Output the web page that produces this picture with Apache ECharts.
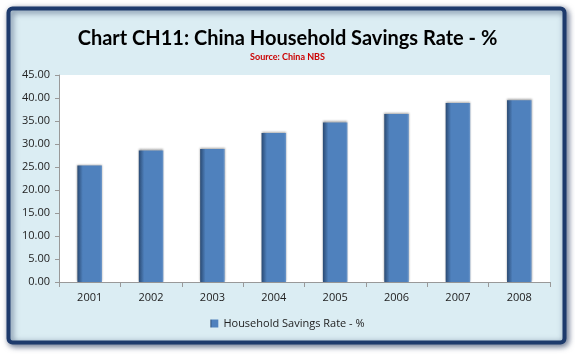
<!DOCTYPE html>
<html><head><meta charset="utf-8">
<script src="https://cdn.jsdelivr.net/npm/echarts@6/dist/echarts.min.js"></script>
<style>html,body{margin:0;padding:0;background:#fff;}#c{width:575px;height:354px;}</style>
</head><body><div id="c"></div>
<script>
const categories = ['2001','2002','2003','2004','2005','2006','2007','2008'];
const savingsRate = [25.3, 28.6, 28.9, 32.4, 34.7, 36.5, 38.9, 39.5];
const seriesName = 'Household Savings Rate - %';
const titleText = 'Chart CH11: China Household Savings Rate - %';
const subtitleText = 'Source: China NBS';

const chart = echarts.init(document.getElementById('c'), null, {renderer:'canvas'});
const barColor = new echarts.graphic.LinearGradient(0,0,1,0,[
  {offset:0, color:'#2a4a73'},
  {offset:0.22, color:'#4f81bd'},
  {offset:0.92, color:'#4f81bd'},
  {offset:1, color:'#6d97c9'}
]);
chart.setOption({
  animation:false,
  backgroundColor:'transparent',
  graphic:[{
    type:'rect', z:-10, silent:true,
    shape:{x:8.5,y:8.5,width:556,height:334,r:4},
    style:{fill:'#dbedf3', stroke:'#1d3a6c', lineWidth:4,
      shadowBlur:6, shadowColor:'rgba(20,40,80,0.6)', shadowOffsetX:2, shadowOffsetY:2}
  }],
  title:{
    text:titleText, subtext:subtitleText, left:'center', top:24, itemGap:4,
    textStyle:{fontFamily:'Lato', fontWeight:'bold', fontSize:20, color:'#000'},
    subtextStyle:{fontFamily:'Lato', fontWeight:'bold', fontSize:9, color:'#cc0000'}
  },
  legend:{
    data:[seriesName], bottom:20, left:'center', itemWidth:8, itemHeight:8,
    icon:'rect', textStyle:{fontFamily:'Open Sans', fontSize:11, color:'#222'}
  },
  grid:{left:59, right:25, top:75, bottom:72, backgroundColor:'#fff', show:true, borderWidth:0},
  xAxis:{
    type:'category', data:categories,
    axisLine:{lineStyle:{color:'#999'}},
    axisTick:{show:true, length:5, lineStyle:{color:'#999'}},
    axisLabel:{fontFamily:'Open Sans', fontSize:11, color:'#222', margin:10}
  },
  yAxis:{
    type:'value', min:0, max:45, interval:5,
    axisLine:{show:true, lineStyle:{color:'#999'}},
    axisTick:{show:true, length:4, lineStyle:{color:'#999'}},
    splitLine:{show:false},
    axisLabel:{fontFamily:'Open Sans', fontSize:11, color:'#222', margin:9,
      formatter:v=>v.toFixed(2)}
  },
  series:[{
    name:seriesName, type:'bar', data:savingsRate, barWidth:'40%',
    itemStyle:{color:barColor, borderColor:'#3d6596', borderWidth:0,
      shadowBlur:2, shadowColor:'rgba(0,0,0,0.35)', shadowOffsetY:-1}
  }]
});
</script></body></html>
